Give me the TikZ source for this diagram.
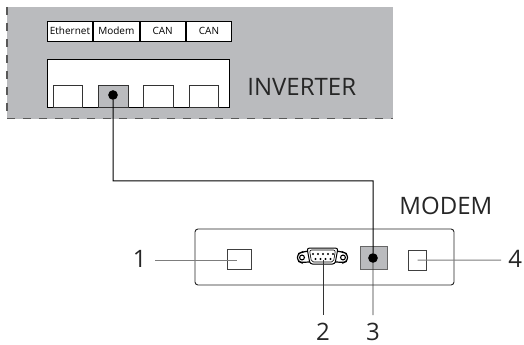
\documentclass[tikz,border=0pt]{standalone}
\usepackage{fontspec}
\setmainfont{Open Sans}
\usetikzlibrary{positioning, calc}
\definecolor{panelgray}{RGB}{186,187,190}
\definecolor{leadgray}{RGB}{125,125,125}
\tikzset{every picture/.append style={thick}}
\tikzset{
    labelbox/.style={draw=black, fill=white, line width=0.8pt, minimum width=1.6cm, minimum height=0.7cm, inner sep=0pt, font=\fontsize{10}{11}\selectfont},
    portbox/.style={draw=black!80, fill=white, line width=0.8pt, minimum width=1.03cm, minimum height=0.77cm, inner sep=0pt},
    bigtext/.style={font=\fontsize{24}{26}\selectfont, text=black!85, inner sep=0pt},
    leadline/.style={draw=leadgray, line width=1pt},
    jack/.style={circle, fill=black, inner sep=0pt, minimum size=0.34cm}
}
\begin{document}
\begin{tikzpicture}[x=1cm, y=-1cm, scale=0.03514]
        % page size
        \useasboundingbox (0,0) rectangle (524,345);

        % Inverter panel
        \fill[panelgray] (7,7) rectangle (393,119);
        \draw[dash pattern=on 8pt off 8pt, line width=1pt, black!65] (7,7) -- (7,119) -- (393,119);

        % Top labels
        \node[labelbox] (ethernet) at (70,31) {Ethernet};
        \node[labelbox, right=0pt of ethernet] (modem) {Modem};
        \node[labelbox, right=0pt of modem] (can1) {CAN};
        \node[labelbox, right=0pt of can1] (can2) {CAN};

        % Port block
        \draw[black, fill=white, line width=0.9pt] (47,59) rectangle (229,107);
        \node[portbox] (port1) at (68,96) {};
        \node[portbox, fill=panelgray] (port2) at (113.5,96) {};
        \node[portbox] (port3) at (158.5,96) {};
        \node[portbox] (port4) at (204,96) {};
        \node[jack] (jackinv) at (113,95) {};
        \node[bigtext, anchor=west] (inverter) at (247,87) {INVERTER};

        % Modem box
        \draw[black!85, line width=0.9pt, rounded corners=3pt] (195,229) rectangle (454,285);
        \node[bigtext, anchor=west] (modemlabel) at (399,206) {MODEM};
        \node[draw=black!75, fill=white, line width=0.9pt, minimum width=0.84cm, minimum height=0.7cm, inner sep=0pt] (portA) at (239,259) {};
        \node[draw=black!60, fill=panelgray, line width=0.9pt, minimum width=0.95cm, minimum height=0.81cm, inner sep=0pt] (portC) at (373.5,257.5) {};
        \node[draw=black!75, fill=white, line width=0.9pt, minimum width=0.62cm, minimum height=0.7cm, inner sep=0pt] (portD) at (417.5,260) {};
        \node[jack] (jackmod) at (373,258) {};

        % Serial connector
        \draw[black, line width=1.2pt, rounded corners=3pt] (308,251) -- (301,252.5) -- (297.5,254) -- (297.5,261) -- (301,262.5) -- (308,262) -- (337,262) -- (344,262.5) -- (347.5,261) -- (347.5,254) -- (344,252.5) -- (337,251) -- cycle;
        \node[circle, draw=black, fill=white, line width=1.1pt, inner sep=0pt, minimum size=0.17cm] (screwL) at (302,257.5) {};
        \node[circle, draw=black, fill=white, line width=1.1pt, inner sep=0pt, minimum size=0.17cm] (screwR) at (343,257.5) {};
        \draw[black, line width=1pt, rounded corners=2.5pt, fill=white] (307,248) -- (338,248) -- (335,264) -- (310,264) -- cycle;
        \draw[black, line width=0.6pt, rounded corners=2pt] (309.5,250) -- (335.5,250) -- (333.5,262) -- (311.5,262) -- cycle;
        \foreach \x in {313,318,323,328,333}
            \fill[black] (\x,254) circle (1.1);
        \foreach \x in {315.5,320.5,325.5,330.5}
            \fill[black] (\x,259) circle (1.1);
        \coordinate (serial) at (323,260);

        % Cable
        \draw[black, line width=1pt] (jackinv) -- (113,181) -- (373,181) -- (jackmod);

        % Callouts
        \node[bigtext, anchor=east] (num1) at (147,259) {1};
        \node[bigtext] (num2) at (323,332) {2};
        \node[bigtext] (num3) at (373,332) {3};
        \node[bigtext, anchor=west] (num4) at (508,259) {4};
        \coordinate (end2) at (323,315);
        \coordinate (end3) at (373,315);
        \draw[leadline] ($(num1.east)+(8,1)$) -- ($(portA.center)+(-2,1)$);
        \draw[black!80, line width=0.9pt] (serial) -- (end2);
        \draw[black!80, line width=0.9pt] (jackmod) -- (end3);
        \draw[leadline] (portD.center) -- ($(num4.west)+(-7,1)$);
    \end{tikzpicture}
\end{document}
